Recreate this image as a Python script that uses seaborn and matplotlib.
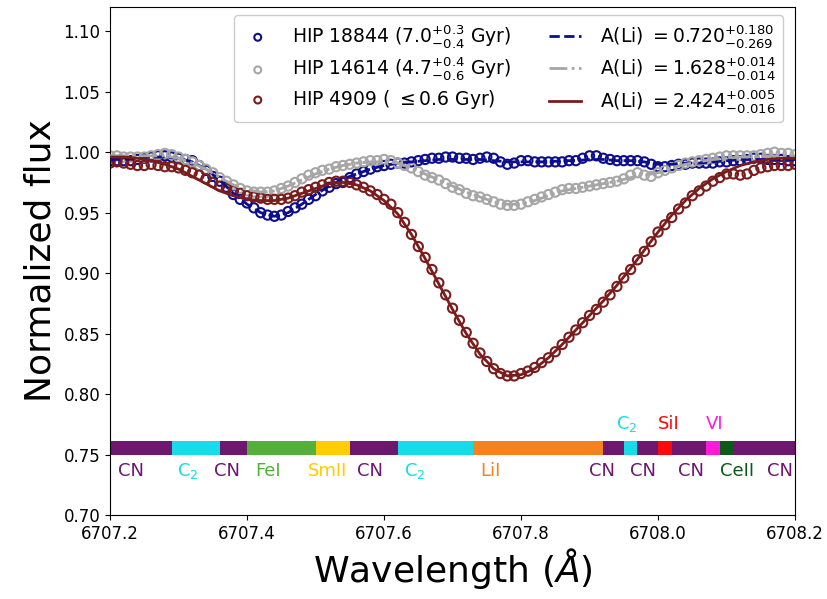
import numpy as np
import pandas as pd
import matplotlib
matplotlib.use("Agg")
import matplotlib.pyplot as plt
import seaborn as sns

# ---------------- data ----------------
wave_obs = np.round(np.arange(6707.20, 6708.2001, 0.01), 2)   # observed grid (0.01 A)
wave_mod = np.round(np.arange(6707.20, 6708.2001, 0.02), 2)   # model grid (0.02 A)

flux_hip18844 = [0.993, 0.993, 0.993, 0.993, 0.994, 0.995, 0.996, 0.997, 0.997, 0.996,
                 0.995, 0.994, 0.993, 0.989, 0.985, 0.980, 0.976, 0.971, 0.965, 0.961,
                 0.958, 0.954, 0.950, 0.948, 0.947, 0.948, 0.951, 0.954, 0.957, 0.961,
                 0.964, 0.968, 0.971, 0.974, 0.975, 0.979, 0.982, 0.984, 0.986, 0.988,
                 0.989, 0.990, 0.991, 0.991, 0.992, 0.993, 0.994, 0.995, 0.995, 0.996,
                 0.996, 0.995, 0.995, 0.994, 0.995, 0.996, 0.995, 0.992, 0.990, 0.991,
                 0.993, 0.993, 0.992, 0.992, 0.992, 0.992, 0.992, 0.993, 0.993, 0.995,
                 0.997, 0.997, 0.995, 0.994, 0.993, 0.993, 0.993, 0.993, 0.992, 0.990,
                 0.988, 0.988, 0.989, 0.990, 0.990, 0.991, 0.991, 0.991, 0.991, 0.992,
                 0.992, 0.993, 0.993, 0.994, 0.995, 0.995, 0.994, 0.994, 0.994, 0.993,
                 0.993]

flux_hip14614 = [0.997, 0.997, 0.996, 0.996, 0.996, 0.996, 0.997, 0.998, 0.999, 0.998,
                 0.996, 0.994, 0.992, 0.989, 0.986, 0.983, 0.979, 0.976, 0.973, 0.970,
                 0.968, 0.967, 0.967, 0.967, 0.968, 0.970, 0.972, 0.975, 0.978, 0.981,
                 0.983, 0.985, 0.986, 0.988, 0.989, 0.990, 0.991, 0.992, 0.993, 0.993,
                 0.994, 0.993, 0.991, 0.989, 0.987, 0.984, 0.981, 0.979, 0.977, 0.974,
                 0.971, 0.969, 0.966, 0.964, 0.963, 0.961, 0.959, 0.957, 0.956, 0.956,
                 0.957, 0.959, 0.961, 0.963, 0.965, 0.967, 0.969, 0.970, 0.970, 0.971,
                 0.972, 0.973, 0.974, 0.975, 0.976, 0.978, 0.981, 0.983, 0.981, 0.980,
                 0.983, 0.985, 0.987, 0.989, 0.991, 0.992, 0.993, 0.994, 0.995, 0.996,
                 0.997, 0.997, 0.997, 0.997, 0.997, 0.998, 0.999, 1.000, 0.999, 0.999,
                 0.998]

flux_hip4909 = [0.991, 0.992, 0.991, 0.990, 0.989, 0.989, 0.990, 0.989, 0.988, 0.988,
                0.987, 0.985, 0.983, 0.981, 0.978, 0.975, 0.972, 0.970, 0.968, 0.966,
                0.964, 0.963, 0.962, 0.961, 0.961, 0.961, 0.962, 0.964, 0.967, 0.969,
                0.971, 0.973, 0.975, 0.976, 0.976, 0.975, 0.973, 0.971, 0.968, 0.965,
                0.961, 0.957, 0.950, 0.942, 0.932, 0.922, 0.913, 0.903, 0.892, 0.882,
                0.871, 0.861, 0.851, 0.842, 0.834, 0.827, 0.821, 0.817, 0.815, 0.815,
                0.817, 0.819, 0.822, 0.826, 0.830, 0.835, 0.841, 0.847, 0.853, 0.859,
                0.865, 0.870, 0.876, 0.882, 0.889, 0.896, 0.903, 0.911, 0.918, 0.926,
                0.934, 0.940, 0.946, 0.953, 0.958, 0.964, 0.968, 0.972, 0.976, 0.979,
                0.982, 0.982, 0.981, 0.982, 0.985, 0.987, 0.988, 0.989, 0.989, 0.989,
                0.990]

model_hip18844 = [0.994, 0.994, 0.995, 0.996, 0.996, 0.995, 0.992, 0.986, 0.977, 0.966,
                  0.957, 0.950, 0.947, 0.950, 0.957, 0.965, 0.972, 0.978, 0.982, 0.986,
                  0.989, 0.991, 0.992, 0.993, 0.994, 0.994, 0.994, 0.994, 0.993, 0.992,
                  0.992, 0.992, 0.992, 0.993, 0.993, 0.994, 0.994, 0.993, 0.993, 0.992,
                  0.990, 0.990, 0.991, 0.991, 0.992, 0.993, 0.994, 0.994, 0.994, 0.994,
                  0.994]

model_hip14614 = [0.997, 0.997, 0.997, 0.997, 0.997, 0.995, 0.991, 0.986, 0.979, 0.973,
                  0.969, 0.967, 0.968, 0.972, 0.977, 0.982, 0.986, 0.989, 0.991, 0.992,
                  0.992, 0.991, 0.987, 0.982, 0.977, 0.972, 0.967, 0.963, 0.959, 0.957,
                  0.957, 0.960, 0.964, 0.968, 0.970, 0.972, 0.974, 0.976, 0.979, 0.981,
                  0.983, 0.987, 0.990, 0.992, 0.994, 0.995, 0.996, 0.996, 0.997, 0.997,
                  0.997]

model_hip4909 = [0.996, 0.996, 0.995, 0.993, 0.990, 0.986, 0.980, 0.974, 0.968, 0.964,
                 0.961, 0.960, 0.960, 0.962, 0.966, 0.970, 0.974, 0.975, 0.973, 0.968,
                 0.960, 0.949, 0.932, 0.912, 0.891, 0.870, 0.850, 0.833, 0.821, 0.815,
                 0.816, 0.821, 0.830, 0.841, 0.853, 0.865, 0.877, 0.890, 0.904, 0.919,
                 0.934, 0.948, 0.960, 0.970, 0.978, 0.984, 0.989, 0.992, 0.994, 0.995,
                 0.995]

star_labels = [r"HIP 18844 ($7.0^{+0.3}_{-0.4}$ Gyr)",
               r"HIP 14614 ($4.7^{+0.4}_{-0.6}$ Gyr)",
               r"HIP 4909 ( $\leq$0.6 Gyr)"]
model_labels = [r"A(Li) $=0.720^{+0.180}_{-0.269}$",
                r"A(Li) $=1.628^{+0.014}_{-0.014}$",
                r"A(Li) $=2.424^{+0.005}_{-0.016}$"]

# line identification bar
seg_start = [6707.20, 6707.29, 6707.36, 6707.40, 6707.50, 6707.55, 6707.62, 6707.73,
             6707.92, 6707.95, 6707.97, 6708.00, 6708.02, 6708.07, 6708.09, 6708.11]
seg_end = [6707.29, 6707.36, 6707.40, 6707.50, 6707.55, 6707.62, 6707.73, 6707.92,
           6707.95, 6707.97, 6708.00, 6708.02, 6708.07, 6708.09, 6708.11, 6708.20]
seg_species = ["CN", "C2", "CN", "FeI", "SmII", "CN", "C2", "LiI",
               "CN", "C2", "CN", "SiI", "CN", "VI", "CeII", "CN"]

lab_x = [6707.231, 6707.314, 6707.371, 6707.431, 6707.518, 6707.580, 6707.645, 6707.755,
         6707.918, 6707.978, 6708.048, 6708.115, 6708.178, 6707.955, 6708.015, 6708.082]
lab_species = ["CN", "C2", "CN", "FeI", "SmII", "CN", "C2", "LiI",
               "CN", "CN", "CN", "CeII", "CN", "C2", "SiI", "VI"]
lab_above = [False] * 13 + [True] * 3

species_color = {"CN": "#6e176e", "C2": "#17dbe8", "FeI": "#55b03b", "SmII": "#ffcc00",
                 "LiI": "#f5821f", "SiI": "#fa0a0a", "VI": "#ff1ad9", "CeII": "#0b5a18"}
species_text = {"CN": "CN", "C2": r"C$_2$", "FeI": "FeI", "SmII": "SmII", "LiI": "LiI",
                "SiI": "SiI", "VI": "VI", "CeII": "CeII"}

colors = ["#0d0d8f", "#a6a6a6", "#7b1c1c"]
line_styles = ["--", "-.", "-"]

# ---------------- plot ----------------
fig = plt.figure(figsize=(8.28, 5.99), dpi=100)
ax = fig.add_axes([0.1329, 0.1402, 0.8273, 0.848])

obs_sets = [flux_hip18844, flux_hip14614, flux_hip4909]
mod_sets = [model_hip18844, model_hip14614, model_hip4909]

for f, c, lab in zip(obs_sets, colors, star_labels):
    df = pd.DataFrame({"wave": wave_obs, "flux": f})
    sns.scatterplot(data=df, x="wave", y="flux", ax=ax, marker="o", s=44,
                    facecolors="none", edgecolor=c, linewidth=1.5, label=lab, zorder=2)

for f, c, ls, lab in zip(mod_sets, colors, line_styles, model_labels):
    df = pd.DataFrame({"wave": wave_mod, "flux": f})
    sns.lineplot(data=df, x="wave", y="flux", ax=ax, color=c, linestyle=ls,
                 linewidth=2, label=lab, zorder=3)

# identification bar
for a, b, sp in zip(seg_start, seg_end, seg_species):
    ax.barh(y=0.7555, width=b - a, left=a, height=0.011, color=species_color[sp],
            edgecolor="none", zorder=1)
for x, sp, up in zip(lab_x, lab_species, lab_above):
    ax.text(x, 0.7755 if up else 0.7365, species_text[sp], color=species_color[sp],
            fontsize=13, ha="center", va="center")

ax.set_xlim(6707.2, 6708.2)
ax.set_ylim(0.70, 1.12)
ax.set_xticks([6707.2, 6707.4, 6707.6, 6707.8, 6708.0, 6708.2])
ax.set_xticklabels(["6707.2", "6707.4", "6707.6", "6707.8", "6708.0", "6708.2"])
ax.set_yticks(np.round(np.arange(0.70, 1.101, 0.05), 2))
ax.set_yticklabels([f"{v:.2f}" for v in np.arange(0.70, 1.101, 0.05)])
ax.tick_params(labelsize=12)
ax.set_xlabel(r"Wavelength ($\AA$)", fontsize=26, labelpad=2)
ax.set_ylabel("Normalized flux", fontsize=26, labelpad=4)

h, l = ax.get_legend_handles_labels()
ax.legend(h, l, ncol=2, loc="upper right", fontsize=13.5, framealpha=1,
          markerscale=0.75, handlelength=1.7, handletextpad=1.0, columnspacing=2.0,
          borderpad=0.4, labelspacing=0.3, borderaxespad=0.0,
          bbox_to_anchor=(0.9825, 0.984))

fig.savefig("out.png", dpi=100)
